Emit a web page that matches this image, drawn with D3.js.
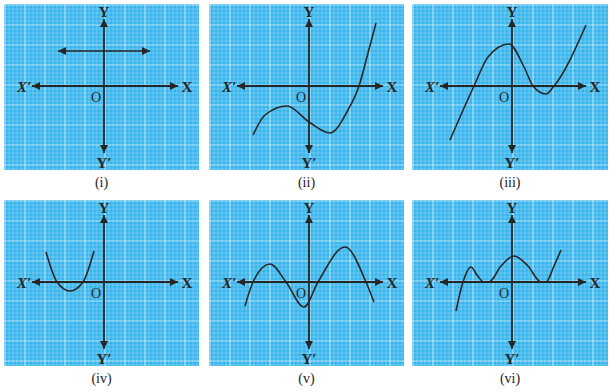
<!DOCTYPE html>
<html>
<head>
<meta charset="utf-8">
<script src="https://cdn.jsdelivr.net/npm/d3@7"></script>
<style>
  body { margin: 0; background: #fff; }
  svg { display: block; }
</style>
</head>
<body>
<svg id="chart" width="615" height="392"></svg>
<script>
// panel labels
var panelLabels = ["(i)", "(ii)", "(iii)", "(iv)", "(v)", "(vi)"];

// curves in graph units (origin at O)
var curveI   = [[-4.6, 3.5], [4.6, 3.5]];
var curveII  = [[-5.6, -4.9], [-4.4, -2.9], [-2.2, -2.0], [0, -3.6], [2.1, -4.7], [3.9, -2.4], [5.0, 0], [5.9, 3.3], [6.7, 6.3]];
var curveIII = [[-6.2, -5.4], [-3.8, 0], [-2.4, 2.9], [-0.3, 4.2], [1.2, 1.9], [2.1, 0], [3.4, -0.8], [4.2, 0], [7.4, 6.1]];
var curveIV  = [[-5.8, 3.0], [-4.7, 0], [-3.4, -0.9], [-2.1, 0], [-1.0, 3.1]];
var curveV   = [[-6.4, -2.4], [-5.6, 0], [-3.9, 1.8], [-2.3, 0], [-0.5, -2.5], [0.9, 0], [3.6, 3.5], [5.7, 0], [6.5, -2.0]];
var curveVI  = [[-5.6, -2.9], [-4.9, 0], [-4.1, 1.5], [-3.5, 0.7], [-2.8, 0], [-2.3, 0], [-1.1, 1.6], [0.2, 2.6], [1.6, 1.6], [2.9, 0], [3.4, 0], [4.2, 1.6], [4.9, 3.2]];

var curves = [curveI, curveII, curveIII, curveIV, curveV, curveVI];

var svg = d3.select("#chart");

var colX = [4, 209, 412],
    colW = [195, 195, 196],
    rowY = [4, 200],
    panelH = 166;

var ink = "#262626";

var defs = svg.append("defs");
defs.append("marker")
    .attr("id", "arrow")
    .attr("viewBox", "0 0 10 10")
    .attr("refX", 10)
    .attr("refY", 5)
    .attr("markerUnits", "userSpaceOnUse")
    .attr("markerWidth", 9)
    .attr("markerHeight", 8)
    .attr("orient", "auto-start-reverse")
  .append("path")
    .attr("d", "M0,0 L10,5 L0,10 z")
    .attr("fill", ink);

curves.forEach(function(pts, i) {
    var x0 = colX[i % 3],
        y0 = rowY[Math.floor(i / 3)],
        w = colW[i % 3],
        ox = x0 + 100,
        oy = y0 + 82;

    var x = d3.scaleLinear().domain([-10, 10]).range([ox - 100, ox + 100]);
    var y = d3.scaleLinear().domain([-10, 10]).range([oy + 100, oy - 100]);

    var g = svg.append("g");

    var clipId = "clip" + i;
    defs.append("clipPath").attr("id", clipId)
      .append("rect")
        .attr("x", x0).attr("y", y0)
        .attr("width", w).attr("height", panelH);

    // graph paper
    g.append("rect")
        .attr("x", x0).attr("y", y0)
        .attr("width", w).attr("height", panelH)
        .attr("fill", "#38b5ec");

    var grid = g.append("g").attr("clip-path", "url(#" + clipId + ")");
    var step = 4;
    d3.range(x0 + 1, x0 + w, step).forEach(function(v, k) {
        grid.append("line")
            .attr("x1", v).attr("x2", v)
            .attr("y1", y0).attr("y2", y0 + panelH)
            .attr("stroke", "#fff")
            .attr("stroke-opacity", k % 5 == 0 ? 0.6 : 0.3)
            .attr("stroke-width", k % 5 == 0 ? 1.2 : 0.8);
    });
    d3.range(y0 + 1, y0 + panelH, step).forEach(function(v, k) {
        grid.append("line")
            .attr("y1", v).attr("y2", v)
            .attr("x1", x0).attr("x2", x0 + w)
            .attr("stroke", "#fff")
            .attr("stroke-opacity", k % 5 == 0 ? 0.6 : 0.3)
            .attr("stroke-width", k % 5 == 0 ? 1.2 : 0.8);
    });

    // axes
    g.append("line")
        .attr("x1", x(-7.2)).attr("x2", x(7.4))
        .attr("y1", y(0)).attr("y2", y(0))
        .attr("stroke", ink).attr("stroke-width", 1.8)
        .attr("marker-start", "url(#arrow)")
        .attr("marker-end", "url(#arrow)");
    g.append("line")
        .attr("x1", x(0)).attr("x2", x(0))
        .attr("y1", y(6.7)).attr("y2", y(-6.7))
        .attr("stroke", ink).attr("stroke-width", 1.8)
        .attr("marker-start", "url(#arrow)")
        .attr("marker-end", "url(#arrow)");

    // the curve
    var line = d3.line()
        .x(function(d) { return x(d[0]); })
        .y(function(d) { return y(d[1]); })
        .curve(i == 0 ? d3.curveLinear : d3.curveMonotoneX);

    var path = g.append("path")
        .datum(pts)
        .attr("d", line)
        .attr("fill", "none")
        .attr("stroke", ink)
        .attr("stroke-width", 1.6);
    if (i == 0) {
        path.attr("marker-start", "url(#arrow)").attr("marker-end", "url(#arrow)");
    }

    // axis letters
    var font = "'Liberation Serif', 'DejaVu Serif', serif";
    g.append("text").attr("x", ox).attr("y", y0 + 13)
        .attr("text-anchor", "middle").attr("font-family", font)
        .attr("font-weight", "bold").attr("font-size", 15).attr("fill", ink)
        .text("Y");
    g.append("text").attr("x", ox).attr("y", y0 + 164)
        .attr("text-anchor", "middle").attr("font-family", font)
        .attr("font-weight", "bold").attr("font-size", 15).attr("fill", ink)
        .text("Y\u2032");
    g.append("text").attr("x", ox + 83).attr("y", oy + 6)
        .attr("text-anchor", "middle").attr("font-family", font)
        .attr("font-weight", "bold").attr("font-size", 15).attr("fill", ink)
        .text("X");
    g.append("text").attr("x", ox - 87).attr("y", oy + 6)
        .attr("font-family", font).attr("font-style", "italic")
        .attr("font-weight", "bold").attr("font-size", 15).attr("fill", ink)
        .text("X\u2032");
    g.append("text").attr("x", ox - 8).attr("y", oy + 16)
        .attr("text-anchor", "middle").attr("font-family", font)
        .attr("font-size", 14).attr("fill", ink)
        .text("O");

    // panel caption
    g.append("text").attr("x", x0 + w / 2).attr("y", y0 + 183)
        .attr("text-anchor", "middle").attr("font-family", font)
        .attr("font-size", 14).attr("fill", "#222")
        .text(panelLabels[i]);
});
</script>
</body>
</html>
